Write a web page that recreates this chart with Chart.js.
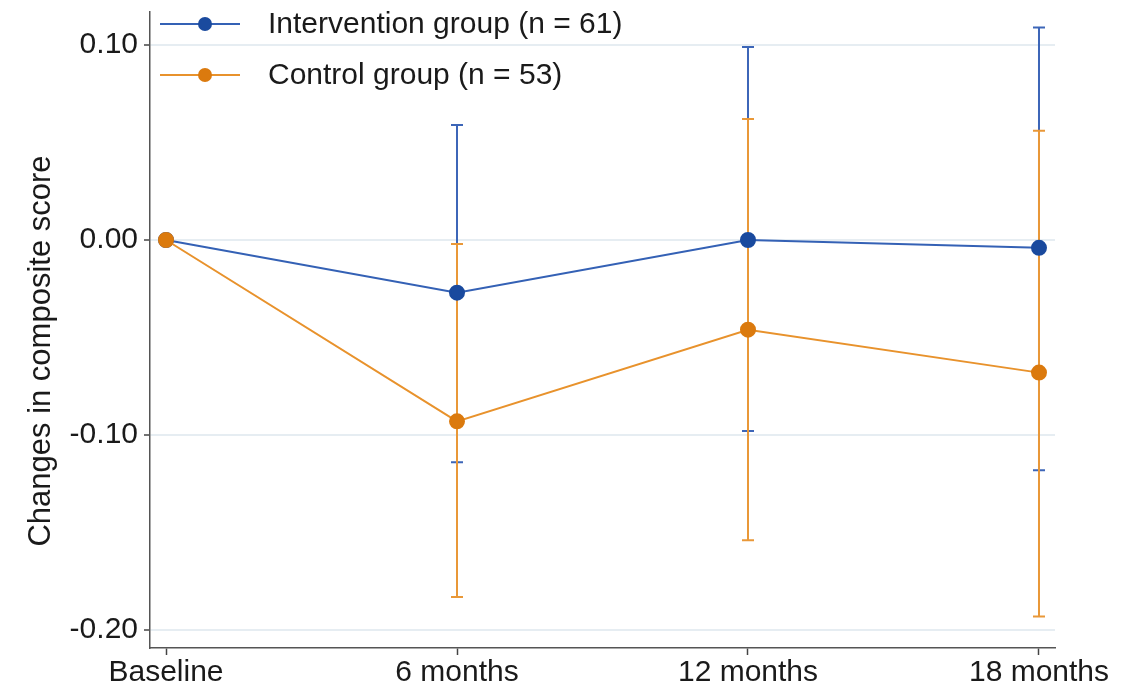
<!DOCTYPE html>
<html>
<head>
<meta charset="utf-8">
<script src="https://cdn.jsdelivr.net/npm/chart.js@4/dist/chart.umd.min.js"></script>
<style>
  body { margin: 0; background: #fff; }
  #wrap { width: 1142px; height: 684px; }
</style>
</head>
<body>
<div id="wrap"><canvas id="lineChart"></canvas></div>
<script>
// data
const timepoints = ['Baseline', '6 months', '12 months', '18 months'];
const interventionMean = [0, -0.027, 0.000, -0.004];
const interventionLower = [null, -0.114, -0.098, -0.118];
const interventionUpper = [null, 0.059, 0.099, 0.109];
const controlMean = [0, -0.093, -0.046, -0.068];
const controlLower = [null, -0.183, -0.154, -0.193];
const controlUpper = [null, -0.002, 0.062, 0.056];
const yTicks = [-0.2, -0.1, 0, 0.1];
const seriesLabels = ['Intervention group (n = 61)', 'Control group (n = 53)'];
const yTitle = 'Changes in composite score';

Chart.defaults.font.family = "'Liberation Sans', Arial, sans-serif";
Chart.defaults.color = '#1a1a1a';

const toPoints = arr => arr.map((v, i) => ({ x: i, y: v }));

// vertical error bars with caps, drawn under the lines
const errorBars = {
    id: 'errorBars',
    beforeDatasetsDraw(chart) {
        const { ctx, scales: { x, y } } = chart;
        chart.data.datasets.forEach(ds => {
            ctx.save();
            ctx.strokeStyle = ds.errColor;
            ctx.lineWidth = 2;
            ds.lower.forEach((lo, i) => {
                const hi = ds.upper[i];
                if (lo == null || hi == null) return;
                const px = x.getPixelForValue(i);
                const y1 = y.getPixelForValue(lo);
                const y2 = y.getPixelForValue(hi);
                ctx.beginPath();
                ctx.moveTo(px, y1); ctx.lineTo(px, y2);
                ctx.moveTo(px - 6, y1); ctx.lineTo(px + 6, y1);
                ctx.moveTo(px - 6, y2); ctx.lineTo(px + 6, y2);
                ctx.stroke();
            });
            ctx.restore();
        });
    }
};

// legend: short line with a marker in the middle, then the label
// plus the rotated y title, a little below the plot centre as in the figure
const lineLegend = {
    id: 'lineLegend',
    afterDraw(chart) {
        const { ctx } = chart;
        chart.data.datasets.forEach((ds, i) => {
            const yy = 24 + i * 51;
            ctx.save();
            ctx.strokeStyle = ds.borderColor;
            ctx.lineWidth = 2;
            ctx.beginPath();
            ctx.moveTo(160, yy); ctx.lineTo(240, yy);
            ctx.stroke();
            ctx.fillStyle = ds.pointBackgroundColor;
            ctx.beginPath();
            ctx.arc(205, yy, 7, 0, Math.PI * 2);
            ctx.fill();
            ctx.fillStyle = '#1a1a1a';
            ctx.font = "30px 'Liberation Sans', Arial, sans-serif";
            ctx.textBaseline = 'middle';
            ctx.fillText(ds.label, 268, yy + 1);
            ctx.restore();
        });

        ctx.save();
        ctx.translate(41, 351);
        ctx.rotate(-Math.PI / 2);
        ctx.fillStyle = '#1a1a1a';
        ctx.font = "31px 'Liberation Sans', Arial, sans-serif";
        ctx.textAlign = 'center';
        ctx.textBaseline = 'middle';
        ctx.fillText(yTitle, 0, 0);
        ctx.restore();
    }
};

const ctxLine = document.getElementById('lineChart').getContext('2d');
const lineChart = new Chart(ctxLine, {
    type: 'line',
    data: {
        datasets: [{
            label: seriesLabels[0],
            data: toPoints(interventionMean),
            lower: interventionLower,
            upper: interventionUpper,
            borderColor: '#3461b5',
            errColor: '#3d66b8',
            pointBackgroundColor: '#1a4a9e',
            pointBorderColor: '#1a4a9e',
            borderWidth: 2,
            pointRadius: 7,
            order: 2
        }, {
            label: seriesLabels[1],
            data: toPoints(controlMean),
            lower: controlLower,
            upper: controlUpper,
            borderColor: '#e8922c',
            errColor: '#e99838',
            pointBackgroundColor: '#db7a0e',
            pointBorderColor: '#db7a0e',
            borderWidth: 2,
            pointRadius: 7,
            order: 1
        }]
    },
    options: {
        responsive: true,
        maintainAspectRatio: false,
        animation: false,
        layout: { padding: { top: 12, right: 87, left: 0, bottom: 0 } },
        plugins: { legend: { display: false }, tooltip: { enabled: false } },
        scales: {
            x: {
                type: 'linear',
                min: -0.055,
                max: 3.055,
                afterBuildTicks: s => { s.ticks = timepoints.map((t, i) => ({ value: i })); },
                afterFit: s => { s.height = 36; s.paddingLeft = 0; s.paddingRight = 0; },
                ticks: {
                    callback: v => timepoints[v],
                    font: { size: 30 },
                    maxRotation: 0,
                    autoSkip: false,
                    padding: 0
                },
                grid: { drawOnChartArea: false, tickLength: 7, tickColor: '#444', tickWidth: 1.5 },
                border: { color: '#555', width: 1.5 }
            },
            y: {
                min: -0.2092,
                max: 0.1169,
                afterBuildTicks: s => { s.ticks = yTicks.map(v => ({ value: v })); },
                afterFit: s => { s.width = 150; s.paddingTop = 0; s.paddingBottom = 0; },
                ticks: {
                    callback: v => v.toFixed(2),
                    font: { size: 30 },
                    padding: 6
                },
                grid: { color: '#e6edf2', lineWidth: 2, tickLength: 6, tickColor: '#444', tickWidth: 1.5 },
                border: { color: '#555', width: 1.5 }
            }
        }
    },
    plugins: [errorBars, lineLegend]
});
</script>
</body>
</html>
